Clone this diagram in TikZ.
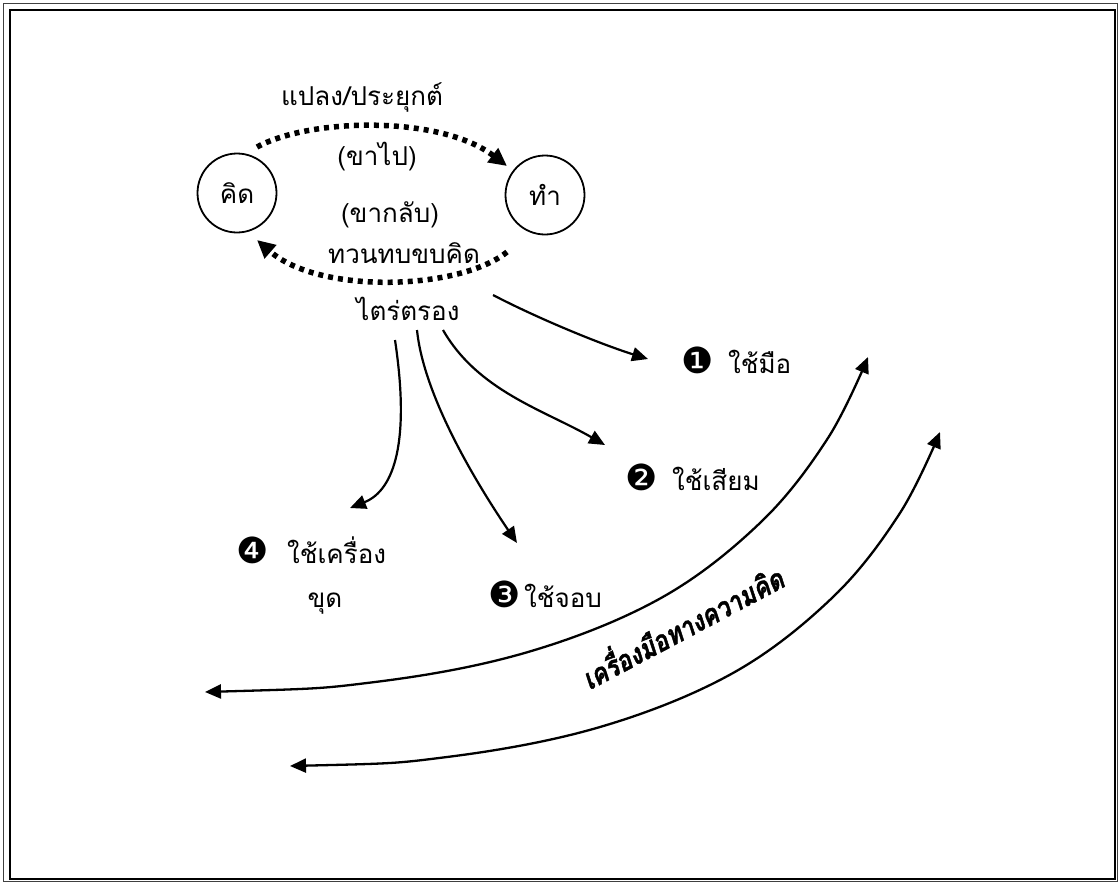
\documentclass[tikz,border=0pt]{standalone}
\usepackage{fontspec}
\usetikzlibrary{arrows.meta}
\newfontfamily\thai[Script=Thai]{Loma}
\newfontfamily\thaitool[Script=Thai,FakeStretch=0.82,FakeBold=1.5]{Loma}
\newfontfamily\dv{DejaVu Sans}
\begin{document}
\begin{tikzpicture}[x=1pt,y=-1pt,
  lbl/.style={font=\thai\fontsize{26}{30}\selectfont, inner sep=0pt},
  num/.style={font=\dv\fontsize{36}{40}\selectfont, inner sep=0pt, anchor=base},
  circ/.style={draw, circle, line width=1.8pt, minimum size=79pt, inner sep=0pt},
  dotarrow/.style={line width=5.5pt, dash pattern=on 5pt off 5pt, -{Triangle[length=18pt,width=17pt]}},
  arr/.style={line width=2.2pt, -{Triangle[length=16pt,width=14pt]}},
  bigarr/.style={line width=2.3pt, {Triangle[length=16pt,width=14pt]}-{Triangle[length=16pt,width=14pt]}},
]
\useasboundingbox (0,0) rectangle (1119,884);
\draw[line width=1.2pt, black!75] (3.5,3.5) rectangle (1117.5,881.5);
\draw[line width=2.5pt] (10,10) rectangle (1115,879);

% circles
\node[circ, lbl] (kid) at (237,193) {คิด};
\node[circ, lbl] (tham) at (545,195) {ทำ};

% labels around
\node[lbl, anchor=base] (plaeng) at (362,105) {แปลง/ประยุกต์};
\node[lbl, anchor=base] (khapai) at (377,165) {(ขาไป)};
\node[lbl, anchor=base] (khaklap) at (390,222) {(ขากลับ)};
\node[lbl, anchor=base] (thuan) at (404,263) {ทวนทบขบคิด};
\node[lbl, anchor=base] (trai) at (408,320) {ไตร่ตรอง};

% dotted arcs
\coordinate (d1s) at (257,147);
\coordinate (d1e) at (507,166);
\coordinate (d2s) at (507,252);
\coordinate (d2e) at (257,240);
\draw[dotarrow] (d1s) .. controls (310,118) and (440,115) .. (d1e);
\draw[dotarrow] (d2s) .. controls (460,290) and (320,295) .. (d2e);

% numbered tools
\node[num] (n1) at (698,373) {❶};
\node[lbl, anchor=base west] (t1) at (728,373) {ใช้มือ};
\node[num] (n2) at (642,490) {❷};
\node[lbl, anchor=base west] (t2) at (672,490) {ใช้เสียม};
\node[num] (n3) at (505,607) {❸};
\node[lbl, anchor=base west] (t3) at (524,607) {ใช้จอบ};
\node[num] (n4) at (253,563) {❹};
\node[lbl, anchor=base west] (t4) at (287,563) {ใช้เครื่อง};
\node[lbl, anchor=base] (t4b) at (325,607) {ขุด};

% arrows from trai
\coordinate (a1s) at (493,295);
\coordinate (a1e) at (648,359);
\coordinate (a2s) at (443,330);
\coordinate (a2e) at (605,445);
\coordinate (a3s) at (417,330);
\coordinate (a3e) at (517,543);
\coordinate (a4s) at (395,340);
\coordinate (a4e) at (350,508);
\draw[arr] (a1s) .. controls (537,318) and (600,344) .. (a1e);
\draw[arr] (a2s) .. controls (478,391) and (544,410) .. (a2e);
\draw[arr] (a3s) .. controls (424,400) and (483,493) .. (a3e);
\draw[arr] (a4s) .. controls (410,440) and (395,490) .. (a4e);

% big arcs
\draw[bigarr] plot[smooth, tension=0.6] coordinates {(205,692) (375,682) (528,652) (661,598) (761,522) (828,438) (868,357)};
\draw[bigarr] plot[smooth, tension=0.6] coordinates {(290,766) (447,757) (600,727) (733,673) (833,597) (900,513) (940,432)};

\node[font=\thaitool\bfseries\itshape\fontsize{29}{33}\selectfont, rotate=28, inner sep=0pt] (tool) at (681,625) {เครื่องมือทางความคิด};
\end{tikzpicture}
\end{document}
